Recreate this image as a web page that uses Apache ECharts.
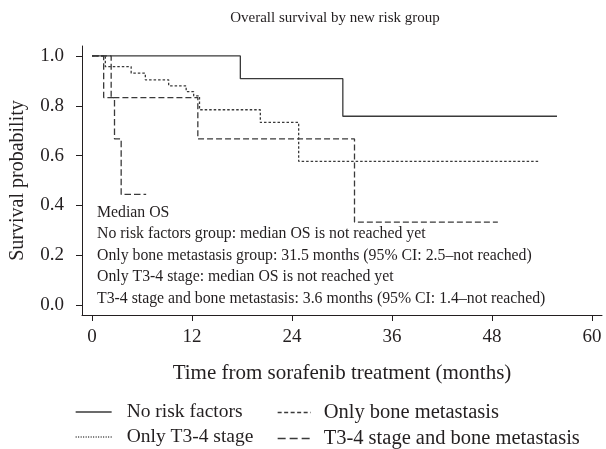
<!DOCTYPE html>
<html>
<head>
<meta charset="utf-8">
<script src="https://cdn.jsdelivr.net/npm/echarts@6/dist/echarts.min.js"></script>
<style>
  html, body { margin: 0; padding: 0; background: #fff; }
  #main { width: 606px; height: 449px; }
</style>
</head>
<body>
<div id="main"></div>
<script>
// KM curves: time (months) where each step lands, survival after it
var noRiskTime = [0, 17.8, 30.1, 55.8];
var noRiskSurv = [1, 0.909, 0.758, 0.758];

var t34Time = [0, 1.6, 4.7, 6.4, 9.2, 11.3, 12.2, 12.9, 20.2, 24.8, 53.7];
var t34Surv = [1, 0.957, 0.931, 0.904, 0.880, 0.857, 0.840, 0.784, 0.733, 0.577, 0.577];

var boneTime = [0, 2.3, 12.7, 31.5, 48.7];
var boneSurv = [1, 0.833, 0.667, 0.333, 0.333];

var bothTime = [0, 1.4, 2.7, 3.5, 6.5];
var bothSurv = [1, 0.833, 0.667, 0.444, 0.444];

var xTicks = [0, 12, 24, 36, 48, 60];
var yTicks = [0, 0.2, 0.4, 0.6, 0.8, 1.0];

var medianNotes = [
  'Median OS',
  'No risk factors group: median OS is not reached yet',
  'Only bone metastasis group: 31.5 months (95% CI: 2.5\u2013not reached)',
  'Only T3-4 stage: median OS is not reached yet',
  'T3-4 stage and bone metastasis: 3.6 months (95% CI: 1.4\u2013not reached)'
];

var FONT = '"Liberation Serif", "DejaVu Serif", serif';
var INK = '#231f20';
var LINE = '#3a3a3a';

function pairs(ts, ss) {
  var out = [];
  for (var i = 0; i < ts.length; i++) out.push([ts[i], ss[i]]);
  return out;
}

function kmSeries(name, ts, ss, dash) {
  return {
    name: name,
    type: 'line',
    step: 'end',
    symbol: 'none',
    silent: true,
    animation: false,
    lineStyle: { color: LINE, width: 1.3, type: dash },
    itemStyle: { color: LINE },
    data: pairs(ts, ss)
  };
}

// legend entry: line only, hide the circle echarts puts in the middle
function legendItem(name, dash) {
  return { name: name, lineStyle: { type: dash, width: 1.3 }, itemStyle: { opacity: 0 } };
}

var chart = echarts.init(document.getElementById('main'), null, { renderer: 'canvas' });

var option = {
  backgroundColor: '#fff',
  animation: false,
  title: [
    {
      text: 'Overall survival by new risk group',
      left: 330,
      top: 6,
      textAlign: 'center',
      textStyle: { fontFamily: FONT, fontSize: 15, fontWeight: 'normal', color: INK }
    },
    {
      text: medianNotes.join('\n'),
      left: 97,
      top: 202,
      padding: 0,
      textStyle: { fontFamily: FONT, fontSize: 15.8, fontWeight: 'normal', color: INK, lineHeight: 21.5 }
    }
  ],
  grid: { left: 78, top: 46, width: 524, height: 269, containLabel: false },
  xAxis: {
    type: 'value',
    min: -1.2,
    max: 61.2,
    name: 'Time from sorafenib treatment (months)',
    nameLocation: 'middle',
    nameGap: 48,
    nameTextStyle: { fontFamily: FONT, fontSize: 21, color: INK },
    axisLine: { show: true, onZero: false, lineStyle: { color: INK, width: 1 } },
    axisTick: { show: true, length: 6, lineStyle: { color: INK }, customValues: xTicks },
    axisLabel: { fontFamily: FONT, fontSize: 19, color: INK, margin: 13, customValues: xTicks },
    splitLine: { show: false }
  },
  yAxis: {
    type: 'value',
    min: -0.04,
    max: 1.04,
    name: 'Survival probability',
    nameLocation: 'middle',
    nameRotate: 90,
    nameGap: 54,
    nameTextStyle: { fontFamily: FONT, fontSize: 20, color: INK },
    axisLine: { show: true, onZero: false, lineStyle: { color: INK, width: 1 } },
    axisTick: { show: true, length: 6, lineStyle: { color: INK }, customValues: yTicks },
    axisLabel: {
      fontFamily: FONT, fontSize: 19, color: INK, margin: 18, customValues: yTicks,
      formatter: function (v) { return v.toFixed(1); }
    },
    splitLine: { show: false }
  },
  legend: [
    {
      orient: 'vertical',
      left: 75,
      top: 402,
      height: 80,
      itemWidth: 36,
      itemHeight: 14,
      itemGap: 5,
      padding: 0,
      selectedMode: false,
      textStyle: { fontFamily: FONT, fontSize: 19.5, color: INK, padding: [0, 0, 0, 10] },
      data: [
        legendItem('No risk factors', 'solid'),
        legendItem('Only T3-4 stage', [1, 1.5])
      ]
    },
    {
      orient: 'vertical',
      left: 277,
      top: 402,
      height: 80,
      itemWidth: 33,
      itemHeight: 14,
      itemGap: 5,
      padding: 0,
      selectedMode: false,
      textStyle: { fontFamily: FONT, fontSize: 20.5, color: INK, padding: [0, 0, 0, 8] },
      data: [
        legendItem('Only bone metastasis', [4, 2.5]),
        legendItem('T3-4 stage and bone metastasis', [8, 4])
      ]
    }
  ],
  series: [
    kmSeries('No risk factors', noRiskTime, noRiskSurv, 'solid'),
    kmSeries('Only T3-4 stage', t34Time, t34Surv, [2.5, 2]),
    kmSeries('Only bone metastasis', boneTime, boneSurv, [6, 3]),
    kmSeries('T3-4 stage and bone metastasis', bothTime, bothSurv, [6.5, 3])
  ]
};

chart.setOption(option);
</script>
</body>
</html>
